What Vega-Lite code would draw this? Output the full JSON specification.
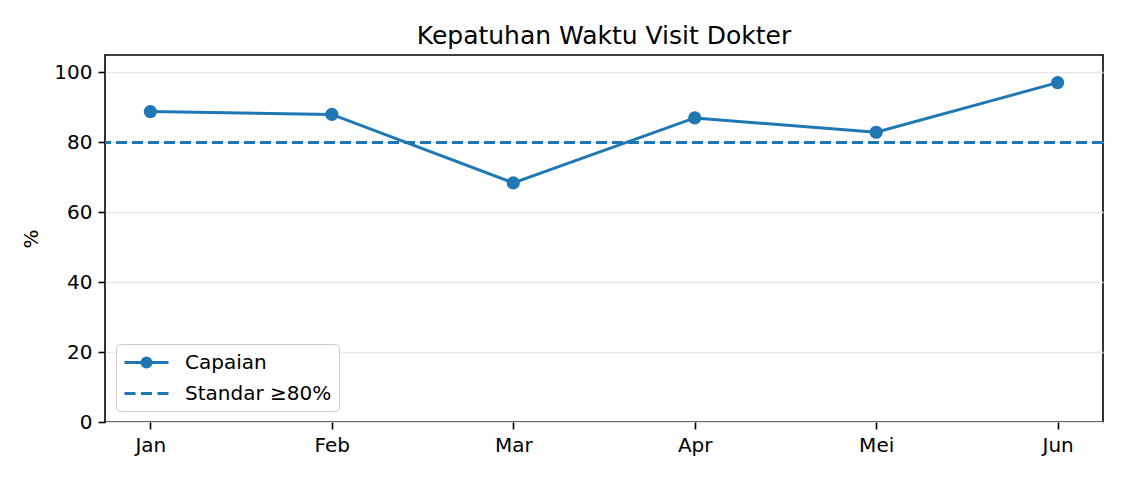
{
  "$schema": "https://vega.github.io/schema/vega-lite/v6.json",
  "autosize": {"type": "none"},
  "width": 998,
  "height": 367,
  "padding": {"left": 105, "top": 55, "right": 22, "bottom": 58},
  "title": {
    "text": "Kepatuhan Waktu Visit Dokter",
    "fontSize": 25,
    "fontWeight": "normal",
    "font": "DejaVu Sans",
    "color": "black",
    "offset": 6
  },
  "config": {
    "font": "DejaVu Sans",
    "view": {"stroke": "black", "strokeWidth": 1.6},
    "axis": {
      "labelFont": "DejaVu Sans",
      "labelFontSize": 20,
      "labelColor": "black",
      "tickColor": "black",
      "tickSize": 7,
      "tickWidth": 1.6,
      "domain": false,
      "titleFont": "DejaVu Sans",
      "titleFontSize": 20,
      "titleFontWeight": "normal",
      "titleColor": "black"
    }
  },
  "data": {
    "values": [
      {"month": "Jan", "value": 88.8, "series": "Capaian"},
      {"month": "Feb", "value": 88.0, "series": "Capaian"},
      {"month": "Mar", "value": 68.4, "series": "Capaian"},
      {"month": "Apr", "value": 87.0, "series": "Capaian"},
      {"month": "Mei", "value": 82.9, "series": "Capaian"},
      {"month": "Jun", "value": 97.1, "series": "Capaian"}
    ]
  },
  "encoding": {
    "x": {
      "field": "month",
      "type": "ordinal",
      "sort": null,
      "scale": {"type": "point", "padding": 0.25, "domain": ["Jan", "Feb", "Mar", "Apr", "Mei", "Jun"]},
      "axis": {"title": null, "labelAngle": 0, "grid": false, "labelPadding": 6}
    },
    "y": {
      "field": "value",
      "type": "quantitative",
      "scale": {"domain": [0, 105], "nice": false},
      "axis": {
        "title": "%",
        "values": [0, 20, 40, 60, 80, 100],
        "grid": true,
        "gridColor": "#e8e8e8",
        "gridWidth": 1.6,
        "labelPadding": 6,
        "titlePadding": 12
      }
    }
  },
  "layer": [
    {
      "data": {"values": [{"series": "Standar ≥80%", "value": 80}]},
      "mark": {"type": "rule", "color": "#1f77b4", "strokeWidth": 3, "strokeDash": [11, 5]},
      "encoding": {
        "x": null,
        "y": {"field": "value", "type": "quantitative"}
      }
    },
    {
      "mark": {"type": "line", "color": "#1f77b4", "strokeWidth": 3}
    },
    {
      "mark": {"type": "point", "filled": true, "color": "#1f77b4", "size": 175, "opacity": 1}
    },
    {
      "data": {"values": [{"series": "Capaian"}, {"series": "Standar ≥80%"}]},
      "mark": {"type": "point", "filled": false, "stroke": "#1f77b4", "strokeWidth": 3, "opacity": 0},
      "encoding": {
        "x": null,
        "y": null,
        "shape": {
          "field": "series",
          "type": "nominal",
          "scale": {
            "domain": ["Capaian", "Standar ≥80%"],
            "range": [
              "M-1,0H3.4M0.75,0A0.45,0.45 0 1,1 1.65,0A0.45,0.45 0 1,1 0.75,0ZM0.9,0A0.3,0.3 0 1,1 1.5,0A0.3,0.3 0 1,1 0.9,0ZM1.05,0A0.15,0.15 0 1,1 1.35,0A0.15,0.15 0 1,1 1.05,0Z",
              "M-1,0H0.1M0.65,0H1.75M2.3,0H3.4"
            ]
          },
          "legend": {
            "title": null,
            "orient": "bottom-left",
            "offset": 11,
            "symbolSize": 400,
            "symbolOpacity": 1,
            "symbolStrokeColor": "#1f77b4",
            "symbolStrokeWidth": 3,
            "labelFont": "DejaVu Sans",
            "labelFontSize": 20,
            "labelColor": "black",
            "labelOffset": 39,
            "rowPadding": 9,
            "padding": 7,
            "fillColor": "white",
            "strokeColor": "#cccccc",
            "cornerRadius": 4,
            "encode": {
              "symbols": {
                "update": {
                  "stroke": {"value": "#1f77b4"},
                  "strokeWidth": {"value": 3},
                  "opacity": {"value": 1},
                  "strokeOpacity": {"value": 1}
                }
              }
            }
          }
        }
      }
    }
  ]
}
